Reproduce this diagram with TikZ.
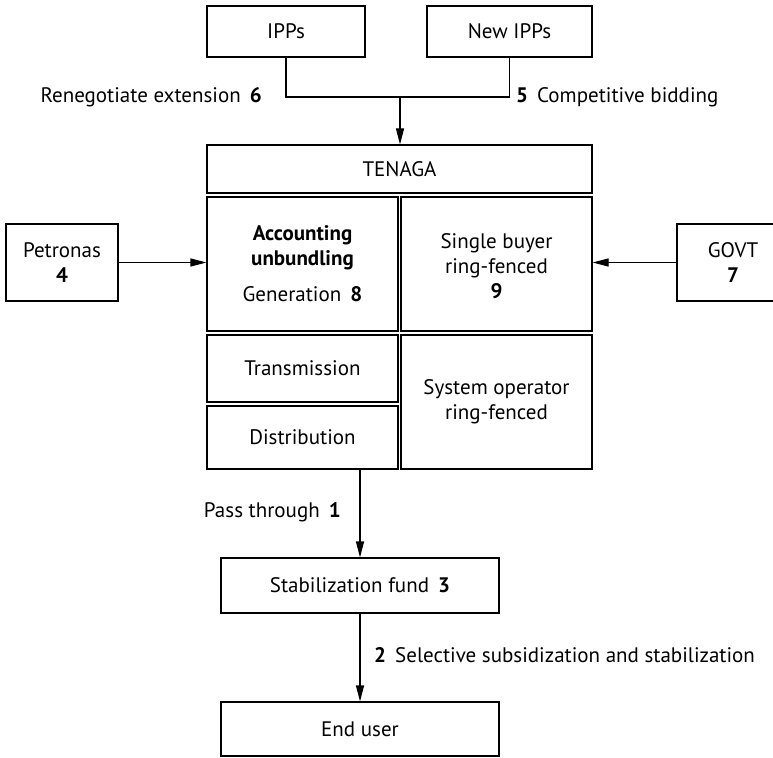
\documentclass[tikz,border=0pt]{standalone}
\usepackage{fontspec}
\setmainfont{PT Sans}
\usepackage{tikz}
\usetikzlibrary{arrows.meta,positioning,calc}

\begin{document}
\begin{tikzpicture}[
  x=1pt, y=-1pt,
  every node/.style={font=\fontsize{21}{25}\selectfont},
  box/.style={draw, line width=1.1pt, inner sep=0pt, align=center},
  lbl/.style={inner sep=0pt},
  link/.style={line width=1.1pt},
  flow/.style={line width=1.1pt, -{Triangle[length=16pt,width=8pt]}},
]
\useasboundingbox (0,0) rectangle (773,757);
\node[box, minimum width=158pt, minimum height=51pt] (ipp) at (286,31.5) {IPPs};
\node[box, minimum width=165pt, minimum height=51pt] (newipp) at (509.5,31.5) {New IPPs};
\node[box, minimum width=385pt, minimum height=48pt] (tenaga) at (399.5,169) {TENAGA};
\node[box, minimum width=191pt, minimum height=134pt] (acct) at (302.5,264)
  {\textbf{Accounting}\\\textbf{unbundling}\\[11pt]Generation\, \textbf{8}};
\node[box, minimum width=191pt, minimum height=134pt] (single) at (496.5,264)
  {\\[-6pt]Single buyer\\ring-fenced\\\textbf{9}};
\node[box, minimum width=191pt, minimum height=67pt] (trans) at (302.5,368.5) {Transmission};
\node[box, minimum width=191pt, minimum height=63pt] (dist) at (302.5,437.5) {Distribution};
\node[box, minimum width=191pt, minimum height=134pt] (sysop) at (496.5,402) {System operator\\ring-fenced};
\node[box, minimum width=112pt, minimum height=77pt] (petronas) at (62,262.5) {Petronas\\\textbf{4}};
\node[box, minimum width=112pt, minimum height=77pt] (govt) at (733,262.5) {GOVT\\\textbf{7}};
\node[box, minimum width=278pt, minimum height=55pt] (stab) at (360,585.5) {Stabilization fund\, \textbf{3}};
\node[box, minimum width=278pt, minimum height=54pt] (enduser) at (360,729) {End user};
\coordinate (join) at (400,97);
\node[lbl, anchor=east] (reneg) at (262,97) {Renegotiate extension\, \textbf{6}};
\node[lbl, anchor=west] (compet) at (516,97) {\textbf{5}\, Competitive bidding};
\node[lbl, anchor=east] (pass) at (341,512) {Pass through\, \textbf{1}};
\node[lbl, anchor=west] (select) at (374,655) {\textbf{2}\, Selective subsidization and stabilization};
\draw[link] (ipp) |- (join) -| (newipp);
\draw[flow] (join) -- (join |- tenaga.north);
\draw[flow] (petronas.east) -- (petronas.east -| acct.west);
\draw[flow] (govt.west) -- (govt.west -| single.east);
\draw[flow] (dist.south -| stab) -- (stab.north);
\draw[flow] (stab) -- (enduser);
\end{tikzpicture}
\end{document}
